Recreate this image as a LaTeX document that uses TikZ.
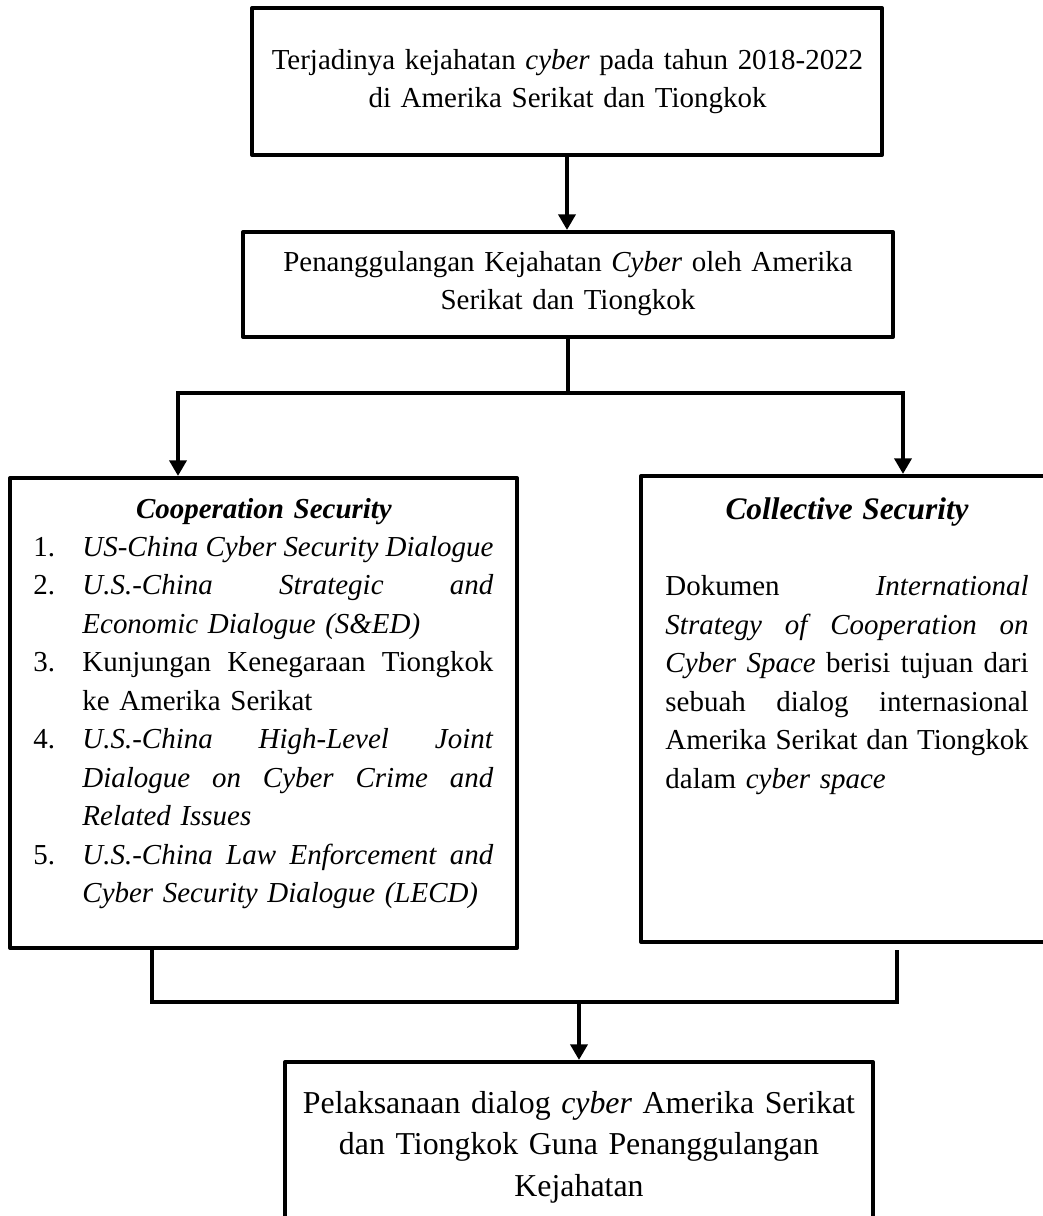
\documentclass[tikz,border=0pt]{standalone}
\usepackage{fontspec}
\setmainfont{Liberation Serif}
\usetikzlibrary{arrows.meta,fit}
\newcommand{\NJ}[2]{\makebox[20.3pt][l]{#1}\makebox[170.3pt][s]{#2}\par}
\newcommand{\NL}[2]{\makebox[20.3pt][l]{#1}\makebox[170.3pt][l]{#2}\par}
\newcommand{\JL}[1]{\makebox[\linewidth][s]{#1}\par}
\newcommand{\g}{\hspace{2.8pt plus 1fill minus 2pt}}
\begin{document}
\begin{tikzpicture}[x=0.4144pt,y=-0.4144pt,
  box/.style={draw,line width=1.66pt,inner sep=0pt,line join=round},
  conn/.style={line width=1.66pt},
  arr/.style={conn,-{Triangle[width=7pt,length=6.5pt]}},
  txt/.style={inner sep=0pt,font=\fontsize{12}{15.95}\selectfont}]
\useasboundingbox (0,0) rectangle (1043,1216);
% boxes
\node[box,fit={(252,8)(882,155)}] (b1) {};
\node[box,fit={(243,232)(893,337)}] (b2) {};
\node[box,fit={(10,478)(517,948)}] (bL) {};
\node[box,fit={(641,476)(1051,942)}] (bR) {};
\node[box,fit={(285,1062)(873,1240)}] (b3) {};
% texts
\node[txt,anchor=base,text width=248.6pt,align=center] (t1) at (567.5,69)
  {Terjadinya kejahatan \textit{cyber} pada tahun 2018-2022\\di Amerika Serikat dan Tiongkok};
\node[txt,anchor=base,text width=256.9pt,align=center] (t2) at (568,271)
  {Penanggulangan Kejahatan \textit{Cyber} oleh Amerika\\Serikat dan Tiongkok};
\node[txt,anchor=base west,text width=191pt] (tL) at (33,518) {%
{\centering\bfseries\itshape Cooperation Security\par}
\NJ{1.}{\textit{US-China\g Cyber\g Security\g Dialogue}}
\NJ{2.}{\textit{U.S.-China\g Strategic\g and}}
\NL{}{\textit{Economic Dialogue (S\&ED)}}
\NJ{3.}{Kunjungan\g Kenegaraan\g Tiongkok}
\NL{}{ke Amerika Serikat}
\NJ{4.}{\textit{U.S.-China\g High-Level\g Joint}}
\NJ{}{\textit{Dialogue\g on\g Cyber\g Crime\g and}}
\NL{}{\textit{Related Issues}}
\NJ{5.}{\textit{U.S.-China\g Law\g Enforcement\g and}}
\NL{}{\textit{Cyber Security Dialogue (LECD)}}}; 
\node[txt,anchor=base west,text width=150.5pt] (tR) at (665,519) {%
{\centering\fontsize{13}{15.95}\selectfont\bfseries\itshape Collective Security\par}
\mbox{}\par
\JL{Dokumen\g\textit{International}}
\JL{\textit{Strategy\g of\g Cooperation\g on}}
\JL{\textit{Cyber\g Space}\g berisi\g tujuan\g dari}
\JL{sebuah\g dialog\g internasional}
\JL{Amerika\g Serikat\g dan\g Tiongkok}
dalam \textit{cyber space}\par};
\node[txt,anchor=base,text width=232pt,align=center,font=\fontsize{13.2}{17.2}\selectfont] (t3) at (579,1113)
  {Pelaksanaan dialog \textit{cyber} Amerika Serikat\\dan Tiongkok Guna Penanggulangan\\Kejahatan};
% connectors
\draw[arr] (b1.south) -- (b1.south |- b2.north);
\coordinate (jL) at (178,393);
\coordinate (jR) at (903,393);
\coordinate (jC) at (b2.south |- jL);
\draw[conn] (b2.south) -- (jC);
\draw[arr] (jC) -| (jL |- bL.north);
\draw[arr] (jC) -| (jR |- bR.north);
\coordinate (kL) at (152,1002);
\coordinate (kR) at (897,1002);
\coordinate (kRt) at (897,950);
\draw[conn] (bL.south -| kL) |- (kR) -- (kRt);
\draw[arr] (b3.north |- kL) -- (b3.north);
\end{tikzpicture}
\end{document}
